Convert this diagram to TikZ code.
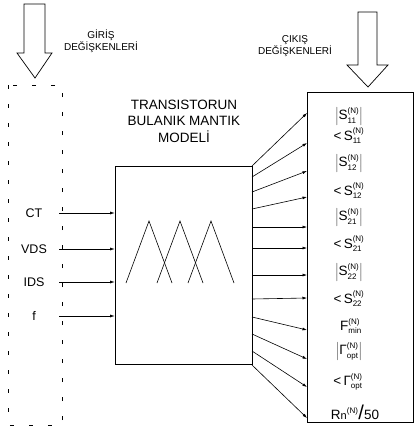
\documentclass[tikz,border=0pt]{standalone}
\usepackage{fontspec}
\setmainfont{Liberation Sans}
\usetikzlibrary{arrows.meta}
\newcommand{\idx}[1]{\mbox{\fontsize{8}{8}\selectfont #1}}
\newcommand{\Sn}[1]{\mbox{S}^{\idx{(N)}}_{\idx{#1}}}
\newcommand{\Gn}{\mbox{Γ}^{\idx{(N)}}_{\idx{opt}}}
\newcommand{\absval}[1]{\left|#1\right|}
\newcommand{\angl}{\mbox{<\,}}

\begin{document}
\begin{tikzpicture}[x=1pt, y=-1pt,
  lbl/.style={font=\fontsize{12.5}{14}\selectfont},
  ttl/.style={align=center, font=\fontsize{10}{12}\selectfont},
  outlbl/.style={font=\fontsize{13.5}{14}\selectfont, inner sep=0pt},
  box/.style={draw, line width=0.6pt, inner sep=0pt},
  arr/.style={-{Latex[length=4.5pt, width=3pt]}, line width=0.6pt},
  bigarrow/.style={line width=0.7pt}]
  \useasboundingbox (0,0) rectangle (414,432);
  % hollow arrows
  \draw[bigarrow] (24,4) -- (24,53) -- (17,53) -- (35,78) -- (52,53) -- (45,53) -- (45,4) -- cycle;
  \draw[bigarrow] (358,12) -- (358,65) -- (347,65) -- (368,87) -- (388,65) -- (377,65) -- (377,12) -- cycle;
  \node[ttl] (giris) at (101,41) {GİRİŞ\\DEĞİŞKENLERİ};
  \node[ttl] (cikis) at (295,46) {ÇIKIŞ\\DEĞİŞKENLERİ};
  % input group
  \draw[dash pattern=on 4pt off 15pt, line width=0.6pt] (8,85) rectangle (62,425);
  % model
  \node[align=center, font=\fontsize{13.5}{16.5}\selectfont] (title) at (184,121) {TRANSISTORUN\\BULANIK MANTIK\\MODELİ};
  \node[box, minimum width=137pt, minimum height=198pt] (model) at (183.5,265) {};
  \foreach \p in {149,180,211}
    \draw[line width=0.6pt] (\p-23,283) -- (\p,221) -- (\p+23,283);
  % inputs
  \foreach \t/\y/\n in {CT/213/ct, VDS/249/vds, IDS/282/ids, f/316/f} {
    \node[lbl] (\n) at (34,\y) {\t};
    \coordinate (in\n) at (59,\y);
    \draw[arr] (in\n) -- (in\n -| model.west);
  }
  % outputs
  \node[box, minimum width=106pt, minimum height=330pt] (outbox) at (360,257) {};
  \foreach \s/\e [count=\i] in {166/113, 177/143, 192/171, 209/197, 227/227, 248/248,
                                275/275, 299/298, 317/330, 334/359, 351/387, 365/418} {
    \coordinate (from\i) at (252,\s);
    \coordinate (to\i) at (307,\e);
    \draw[arr] (from\i) -- (to\i);
  }
  \node[outlbl] (o1) at (349,116) {$\absval{\Sn{11}}$};
  \node[outlbl] (o2) at (349,136) {$\angl\Sn{11}$};
  \node[outlbl] (o3) at (349,163) {$\absval{\Sn{12}}$};
  \node[outlbl] (o4) at (349,191) {$\angl\Sn{12}$};
  \node[outlbl] (o5) at (349,217) {$\absval{\Sn{21}}$};
  \node[outlbl] (o6) at (349,244) {$\angl\Sn{21}$};
  \node[outlbl] (o7) at (349,272) {$\absval{\Sn{22}}$};
  \node[outlbl] (o8) at (349,299) {$\angl\Sn{22}$};
  \node[outlbl] (o9) at (351,326) {$\mbox{F}^{\idx{(N)}}_{\idx{min}}$};
  \node[outlbl] (o10) at (349,351) {$\absval{\Gn}$};
  \node[outlbl] (o11) at (348,382) {$\angl\Gn$};
  \node[outlbl] (o12) at (355,412) {$\mbox{R}\mbox{\fontsize{11}{12}\selectfont n}^{\idx{(N)}}\mbox{\fontsize{20}{20}\selectfont/}\mbox{50}$};
\end{tikzpicture}
\end{document}
